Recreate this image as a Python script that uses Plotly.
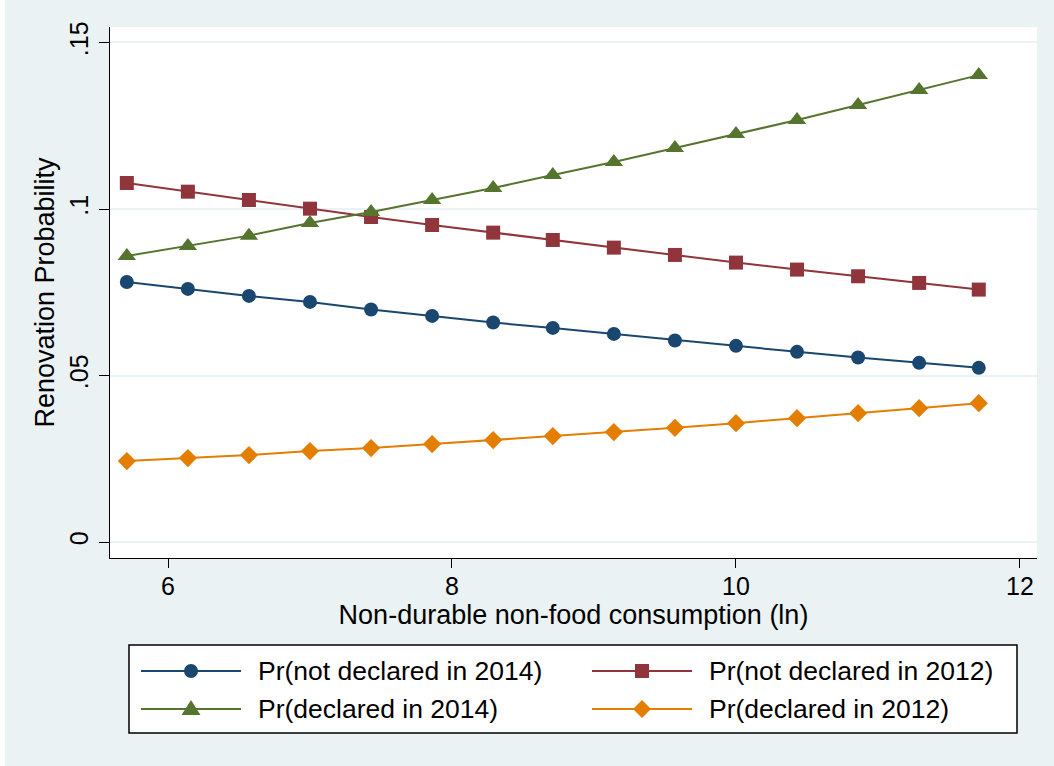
import plotly.graph_objects as go

# ---- data ----
consumption_ln = [5.71, 6.14, 6.57, 7.0, 7.43, 7.86, 8.29, 8.71, 9.14, 9.57, 10.0, 10.43, 10.86, 11.29, 11.71]
pr_not_declared_2014 = [0.0781, 0.0760, 0.0739, 0.0721, 0.0698, 0.0679, 0.0659, 0.0643, 0.0625, 0.0605, 0.0589, 0.0571, 0.0554, 0.0538, 0.0523]
pr_not_declared_2012 = [0.1078, 0.1052, 0.1027, 0.1001, 0.0976, 0.0952, 0.0929, 0.0907, 0.0884, 0.0862, 0.0839, 0.0818, 0.0798, 0.0778, 0.0758]
pr_declared_2014 = [0.0859, 0.0889, 0.0920, 0.0958, 0.0991, 0.1027, 0.1063, 0.1102, 0.1141, 0.1183, 0.1225, 0.1267, 0.1312, 0.1357, 0.1402]
pr_declared_2012 = [0.0243, 0.0252, 0.0261, 0.0273, 0.0282, 0.0294, 0.0306, 0.0318, 0.0330, 0.0343, 0.0357, 0.0372, 0.0387, 0.0402, 0.0417]

series_names = ["Pr(not declared in 2014)", "Pr(not declared in 2012)",
                "Pr(declared in 2014)", "Pr(declared in 2012)"]
x_ticks = [6, 8, 10, 12]
y_ticks = [0, 0.05, 0.10, 0.15]
y_tick_labels = ["0", ".05", ".1", ".15"]

# ---- style ----
W, H = 1054, 766
ML, MR, MT, MB = 110, 17, 27, 208
PW, PH = W - ML - MR, H - MT - MB
BG = "#EAF2F3"
FONT = "Liberation Sans, Arial, sans-serif"
styles = [
    dict(color="#1A476F", symbol="circle", size=14),
    dict(color="#90353B", symbol="square", size=14),
    dict(color="#55752F", symbol="triangle-up", size=16),
    dict(color="#E37E00", symbol="diamond", size=14),
]
series = [pr_not_declared_2014, pr_not_declared_2012, pr_declared_2014, pr_declared_2012]


def px(xp):
    return (xp - ML) / PW


def py(yp):
    return (H - MB - yp) / PH


fig = go.Figure()
for name, ys, st in zip(series_names, series, styles):
    fig.add_trace(go.Scatter(
        x=consumption_ln, y=ys, name=name, mode="lines+markers",
        line=dict(color=st["color"], width=2),
        marker=dict(color=st["color"], symbol=st["symbol"], size=st["size"], line=dict(width=0)),
        showlegend=False,
    ))

shapes = []
annotations = []
# thin white strip at the far left edge of the image
shapes.append(dict(type="rect", xref="paper", yref="paper", x0=px(-2), x1=px(5), y0=py(H + 2), y1=py(-2),
                   fillcolor="white", line=dict(width=0), layer="below"))
# legend box
shapes.append(dict(type="rect", xref="paper", yref="paper", x0=px(129), x1=px(1017), y0=py(733), y1=py(645),
                   fillcolor="white", line=dict(color="black", width=1.5)))

leg_pos = [(141, 671), (592, 671), (141, 709), (592, 709)]
marker_paths = {
    "square": "M-7,-7 L7,-7 L7,7 L-7,7 Z",
    "triangle-up": "M-9.5,-6 L9.5,-6 L0,9 Z",
    "diamond": "M-9,0 L0,9 L9,0 L0,-9 Z",
}
for (lx, ly), name, st in zip(leg_pos, series_names, styles):
    shapes.append(dict(type="line", xref="paper", yref="paper", x0=px(lx), x1=px(lx + 100),
                       y0=py(ly), y1=py(ly), line=dict(color=st["color"], width=2)))
    cx, cy = px(lx + 50), py(ly)
    if st["symbol"] == "circle":
        shapes.append(dict(type="circle", xref="paper", yref="paper", xsizemode="pixel", ysizemode="pixel",
                           xanchor=cx, yanchor=cy, x0=-7, x1=7, y0=-7, y1=7,
                           fillcolor=st["color"], line=dict(width=0)))
    else:
        shapes.append(dict(type="path", xref="paper", yref="paper", xsizemode="pixel", ysizemode="pixel",
                           xanchor=cx, yanchor=cy, path=marker_paths[st["symbol"]],
                           fillcolor=st["color"], line=dict(width=0)))
    annotations.append(dict(xref="paper", yref="paper", x=px(lx + 115), y=py(ly), xanchor="left",
                            yanchor="middle", showarrow=False, text=name,
                            font=dict(family=FONT, size=26.5, color="black")))

fig.update_layout(
    width=W, height=H,
    margin=dict(l=ML, r=MR, t=MT, b=MB, autoexpand=False),
    paper_bgcolor=BG, plot_bgcolor="white",
    font=dict(family=FONT, color="black"),
    shapes=shapes, annotations=annotations,
    showlegend=False,
)
fig.update_xaxes(
    range=[5.5915, 12.12], tickvals=x_ticks, ticktext=[str(v) for v in x_ticks],
    showgrid=False, zeroline=False, showline=True, linecolor="black", linewidth=1,
    ticks="outside", ticklen=9, tickcolor="black", tickwidth=1,
    tickfont=dict(family=FONT, size=25, color="black"), ticklabelstandoff=-3,
    title=dict(text="Non-durable non-food consumption (ln)", font=dict(family=FONT, size=27, color="black"),
               standoff=4),
)
fig.update_yaxes(
    range=[-0.0048, 0.15465], tickvals=y_ticks, ticktext=y_tick_labels, tickangle=-90,
    showgrid=True, gridcolor=BG, gridwidth=1.5, zeroline=False,
    showline=True, linecolor="black", linewidth=1,
    ticks="outside", ticklen=10, tickcolor="black", tickwidth=1,
    tickfont=dict(family=FONT, size=25, color="black"), ticklabelstandoff=1,
    title=dict(text="Renovation Probability", font=dict(family=FONT, size=27, color="black"), standoff=2),
)

fig.write_html("out.html", config={"displayModeBar": False},
               post_script="document.body.style.margin='0';")
